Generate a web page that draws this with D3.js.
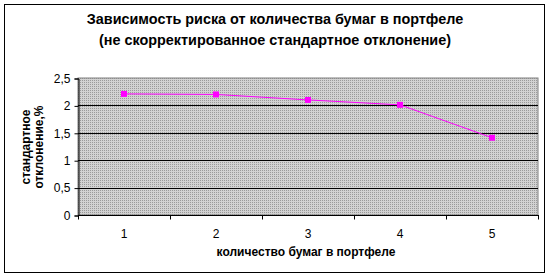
<!DOCTYPE html>
<html><head><meta charset="utf-8">
<script src="https://cdn.jsdelivr.net/npm/d3@7/dist/d3.min.js"></script>
<style>html,body{margin:0;padding:0;background:#fff;}svg{display:block;font-family:"Liberation Sans",Arial,sans-serif;}</style>
</head><body>
<script>
const categories = ["1","2","3","4","5"];
const values = [2.21, 2.2, 2.1, 2.01, 1.41];
const yTicks = [0, 0.5, 1, 1.5, 2, 2.5];
const titleLines = ["Зависимость риска от количества бумаг в портфеле", "(не скорректированное стандартное отклонение)"];
const yTitleLines = ["стандартное", "отклонение,%"];
const xTitle = "количество бумаг в портфеле";

const W = 552, H = 278;
const svg = d3.select("body").append("svg").attr("width", W).attr("height", H);

// outer frame
svg.append("rect").attr("x", 4.5).attr("y", 4.5).attr("width", 540).attr("height", 268)
  .attr("fill", "#fff").attr("stroke", "#000").attr("stroke-width", 1);

const defs = svg.append("defs");
const pat = defs.append("pattern").attr("id", "dots").attr("patternUnits", "userSpaceOnUse")
  .attr("width", 2).attr("height", 2);
pat.append("rect").attr("width", 2).attr("height", 2).attr("fill", "#d2d2d2");
pat.append("rect").attr("width", 1).attr("height", 1).attr("fill", "#9a9a9a");

const L = 78, R = 538, T = 78, B = 215;
const x = d3.scaleBand().domain(categories).range([L, R]);
const y = d3.scaleLinear().domain([0, 2.5]).range([B, T]);

svg.append("rect").attr("x", L).attr("y", T).attr("width", R - L).attr("height", B - T)
  .attr("fill", "url(#dots)").attr("stroke", "#808080").attr("stroke-width", 1);

// gridlines
svg.append("g").selectAll("line").data(yTicks.filter(d => d > 0 && d < 2.5)).join("line")
  .attr("x1", L).attr("x2", R)
  .attr("y1", d => Math.round(y(d)) + 0.5).attr("y2", d => Math.round(y(d)) + 0.5)
  .attr("stroke", "#000");

// y axis
const yAxis = svg.append("g").attr("transform", `translate(${L + 0.5},0.5)`)
  .call(d3.axisLeft(y).tickValues(yTicks).tickSize(4).tickFormat(d => String(d).replace(".", ",")));
yAxis.select(".domain").attr("stroke", "#000");
yAxis.selectAll("text").attr("font-size", 12).attr("fill", "#000").attr("font-family", "Liberation Sans, Arial, sans-serif").attr("dx", "-1");

// x axis (ticks between categories)
const xAxisG = svg.append("g").attr("transform", `translate(0,${B + 0.5})`);
xAxisG.append("line").attr("x1", L).attr("x2", R + 1).attr("stroke", "#000");
const bounds = categories.map(c => x(c)).concat([R]);
xAxisG.selectAll("line.tk").data(bounds).join("line").attr("class", "tk")
  .attr("x1", d => Math.round(d) + 0.5).attr("x2", d => Math.round(d) + 0.5)
  .attr("y1", 0).attr("y2", 4).attr("stroke", "#000");
xAxisG.selectAll("text").data(categories).join("text")
  .attr("x", d => x(d) + x.bandwidth() / 2).attr("y", 22)
  .attr("text-anchor", "middle").attr("font-size", 12).text(d => d);

// line
const line = d3.line().x((d, i) => x(categories[i]) + x.bandwidth() / 2).y(d => y(d));
svg.append("path").datum(values).attr("d", line).attr("fill", "none")
  .attr("stroke", "#ff00ff").attr("stroke-width", 1);
svg.append("g").selectAll("rect").data(values).join("rect")
  .attr("x", (d, i) => x(categories[i]) + x.bandwidth() / 2 - 3)
  .attr("y", d => y(d) - 3).attr("width", 6).attr("height", 6).attr("fill", "#ff00ff");

// title
svg.append("g").selectAll("text").data(titleLines).join("text")
  .attr("x", 275).attr("y", (d, i) => 24 + i * 21)
  .attr("text-anchor", "middle").attr("font-size", 14.4).attr("font-weight", "bold").text(d => d);

// y title
svg.append("g").selectAll("text").data(yTitleLines).join("text")
  .attr("transform", (d, i) => `translate(${30 + i * 13},147) rotate(-90)`)
  .attr("text-anchor", "middle").attr("font-size", 12).attr("font-weight", "bold").text(d => d);

// x title
svg.append("text").attr("x", 306).attr("y", 256).attr("text-anchor", "middle")
  .attr("font-size", 12).attr("font-weight", "bold").text(xTitle);
</script>
</body></html>
